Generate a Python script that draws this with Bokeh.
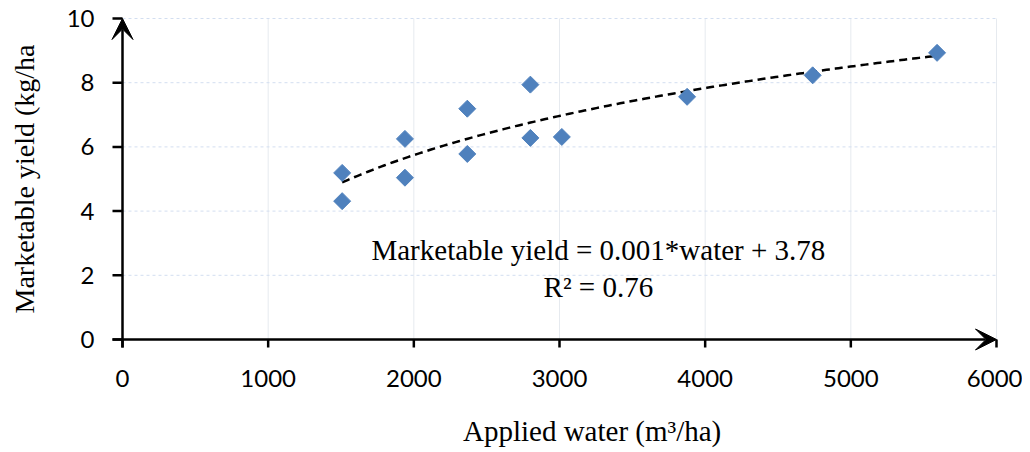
import numpy as np
from bokeh.plotting import figure
from bokeh.models import (Range1d, FixedTicker, Arrow, VeeHead, Label, LinearAxis)
from bokeh.embed import file_html
from bokeh.resources import INLINE

# ---- data ----
water = [1508, 1508, 1939, 1939, 2367, 2367, 2800, 2800, 3016, 3876, 4738, 5592]
yield_ = [5.19, 4.31, 6.25, 5.04, 7.19, 5.78, 7.94, 6.28, 6.31, 7.56, 8.23, 8.93]
x_ticks = [0, 1000, 2000, 3000, 4000, 5000, 6000]
y_ticks = [0, 2, 4, 6, 8, 10]
eq_text = "Marketable yield = 0.001*water + 3.78"
r2_text = "R² = 0.76"
x_title = "Applied water (m³/ha)"
y_title = "Marketable yield (kg/ha"

# logarithmic trend line fitted to the data
a, b = np.polyfit(np.log(water), yield_, 1)
tx = np.linspace(min(water), max(water), 200)
ty = a * np.log(tx) + b

X0, X1 = 0, 6000
Y0, Y1 = 0, 10
padx = 82.4   # ~12 px of room around the axes so arrow heads are not clipped
pady = 0.374
xtick_len = 0.249   # ~8 px
ytick_len = 68.7    # ~10 px
title_shift = "\u00a0" * 9   # nudges the centred x title to the right, as in the reference

p = figure(width=1022, height=450, output_backend="svg", toolbar_location=None,
           x_range=Range1d(X0 - padx, X1 + padx), y_range=Range1d(Y0 - pady, Y1 + pady),
           min_border_left=110, min_border_right=14, min_border_top=6,
           min_border_bottom=99)
p.outline_line_color = None
p.background_fill_color = "white"
p.xgrid.visible = False
p.ygrid.visible = False

# grid lines drawn from the tick values
gx = [t for t in x_ticks if t > X0]
gy = [t for t in y_ticks if t > Y0]
p.segment(x0=gx, y0=[Y0] * len(gx), x1=gx, y1=[Y1] * len(gx),
          line_color="#e6eaef", line_width=1)
p.segment(x0=[X0] * len(gy), y0=gy, x1=[X1] * len(gy), y1=gy,
          line_color="#d3def0", line_width=1, line_dash="3 3")

# tick marks at the real axis position
p.segment(x0=x_ticks, y0=[Y0] * len(x_ticks), x1=x_ticks,
          y1=[Y0 - xtick_len] * len(x_ticks), line_color="black", line_width=2.5)
p.segment(x0=[X0] * len(y_ticks), y0=y_ticks, x1=[X0 - ytick_len] * len(y_ticks),
          y1=y_ticks, line_color="black", line_width=2.5)

# built-in axes provide only the labels
for ax in (p.xaxis[0], p.yaxis[0]):
    ax.axis_line_color = None
    ax.major_tick_line_color = None
    ax.minor_tick_line_color = None
    ax.major_tick_in = 0
    ax.major_tick_out = 0
    ax.major_label_text_font = "Lato"
    ax.major_label_text_font_size = "24px"
    ax.major_label_text_color = "black"

p.xaxis.ticker = FixedTicker(ticks=x_ticks)
p.yaxis.ticker = FixedTicker(ticks=y_ticks)
p.xaxis.major_label_standoff = 18
p.yaxis.major_label_standoff = 16

p.yaxis.axis_label = y_title
p.yaxis.axis_label_text_font = "Liberation Serif"
p.yaxis.axis_label_text_font_size = "28px"
p.yaxis.axis_label_text_font_style = "normal"
p.yaxis.axis_label_text_color = "black"
p.yaxis.axis_label_standoff = 24

# second, label-only axis carrying the x title
xt_axis = LinearAxis(ticker=FixedTicker(ticks=[]),
                     axis_line_color=None, major_tick_line_color=None,
                     minor_tick_line_color=None, major_tick_in=0, major_tick_out=0,
                     major_label_standoff=0,
                     axis_label=title_shift + x_title, axis_label_standoff=25,
                     axis_label_text_font="Liberation Serif",
                     axis_label_text_font_size="29px",
                     axis_label_text_font_style="normal",
                     axis_label_text_color="black")
p.add_layout(xt_axis, "below")

# axis lines with arrow heads
p.add_layout(Arrow(end=VeeHead(size=21, fill_color="black", fill_alpha=1.0,
                               line_color="black", line_width=1),
                   x_start=X0, y_start=Y0 - xtick_len, x_end=X0, y_end=Y1,
                   line_color="black", line_width=2.5))
p.add_layout(Arrow(end=VeeHead(size=21, fill_color="black", fill_alpha=1.0,
                               line_color="black", line_width=1),
                   x_start=X0 - ytick_len, y_start=Y0, x_end=X1, y_end=Y0,
                   line_color="black", line_width=2.5))

# trend line and points
p.line(tx, ty, line_color="black", line_width=2.5, line_dash="8 5")
p.scatter(water, yield_, marker="square", size=12, angle=np.pi / 4,
          fill_color="#4f81bd", line_color="#4f81bd")

# equation labels
p.add_layout(Label(x=3267, y=2.8, text=eq_text, text_align="center",
                   text_baseline="middle", text_font="Liberation Serif",
                   text_font_size="29px", text_color="black"))
p.add_layout(Label(x=3267, y=1.65, text=r2_text, text_align="center",
                   text_baseline="middle", text_font="Liberation Serif",
                   text_font_size="29px", text_color="black"))

open("out.html", "w").write(file_html(p, INLINE))
